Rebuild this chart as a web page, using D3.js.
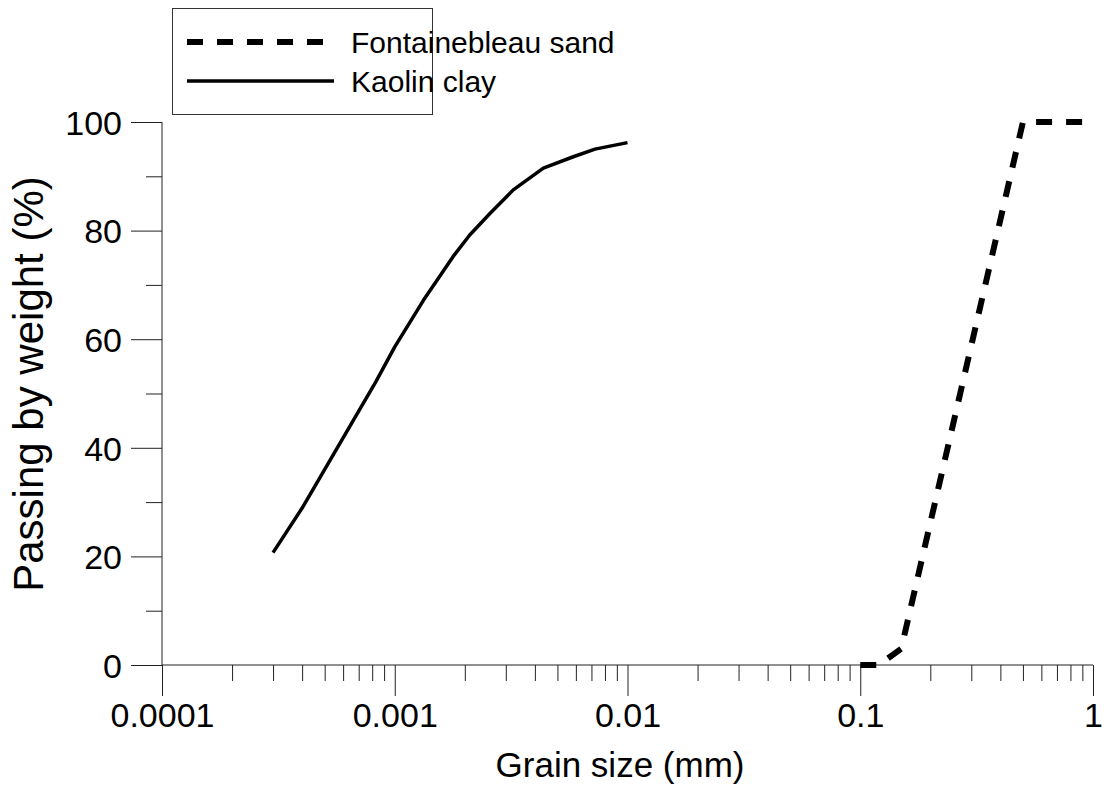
<!DOCTYPE html>
<html>
<head>
<meta charset="utf-8">
<script src="https://cdn.jsdelivr.net/npm/d3@7"></script>
<style>
  html, body { margin: 0; padding: 0; background: #fff; }
  svg { display: block; font-family: "Liberation Sans", Arial, sans-serif; }
</style>
</head>
<body>
<svg id="chart" width="1106" height="789"></svg>
<script>
// Grain size distribution curves (grain size in mm, percent passing by weight)
const sandSize    = [0.1, 0.12, 0.15, 0.5, 1];
const sandPassing = [0, 0, 3, 100, 100];

const kaolinSize    = [0.0003, 0.0004, 0.00083, 0.001, 0.00133, 0.00178, 0.0021, 0.00257, 0.00323, 0.00435, 0.00585, 0.00725, 0.01];
const kaolinPassing = [20.7, 28.9, 52.2, 58.6, 67.2, 75.2, 79.2, 83.2, 87.5, 91.5, 93.6, 95.0, 96.2];

const xTickValues = [0.0001, 0.001, 0.01, 0.1, 1];
const xTickLabels = ["0.0001", "0.001", "0.01", "0.1", "1"];
const yTickValues = [0, 20, 40, 60, 80, 100];

const seriesNames = ["Fontainebleau sand", "Kaolin clay"];

const svg = d3.select("#chart");
const plotLeft = 162, plotRight = 1093, plotTop = 122, plotBottom = 665;

const x = d3.scaleLog().domain([0.0001, 1]).range([plotLeft, plotRight]);
const y = d3.scaleLinear().domain([0, 100]).range([plotBottom, plotTop]);

// minor ticks: 2..9 within each decade
const xMinor = [];
for (let e = -4; e < 0; e++) {
  for (let m = 2; m <= 9; m++) xMinor.push(m * Math.pow(10, e));
}
const yMinor = [10, 30, 50, 70, 90];

const axisColor = "#222";
const tickFont = 34;

// x axis
const gx = svg.append("g").attr("transform", `translate(0,${plotBottom})`);
gx.call(d3.axisBottom(x).tickValues(xMinor).tickSize(16).tickFormat(""));
gx.append("g").call(d3.axisBottom(x).tickValues(xTickValues).tickSize(31)
  .tickFormat((d, i) => xTickLabels[i]));
gx.selectAll(".domain").remove();
gx.append("line").attr("x1", plotLeft).attr("x2", plotRight).attr("y1", 0).attr("y2", 0)
  .attr("stroke", axisColor).attr("stroke-width", 1);
gx.selectAll(".tick line").attr("stroke", axisColor).attr("stroke-width", 1);
gx.selectAll(".tick text")
  .attr("y", 62).attr("dy", null)
  .attr("font-size", tickFont).attr("fill", "#000")
  .attr("font-family", "Liberation Sans, Arial, sans-serif");

// y axis
const gy = svg.append("g").attr("transform", `translate(${plotLeft},0)`);
gy.call(d3.axisLeft(y).tickValues(yMinor).tickSize(16).tickFormat(""));
gy.append("g").call(d3.axisLeft(y).tickValues(yTickValues).tickSize(31));
gy.selectAll(".domain").remove();
gy.append("line").attr("x1", 0).attr("x2", 0).attr("y1", plotTop).attr("y2", plotBottom)
  .attr("stroke", axisColor).attr("stroke-width", 1);
gy.selectAll(".tick line").attr("stroke", axisColor).attr("stroke-width", 1);
gy.selectAll(".tick text")
  .attr("x", -40).attr("dy", "0.36em")
  .attr("font-size", tickFont).attr("fill", "#000")
  .attr("font-family", "Liberation Sans, Arial, sans-serif");

// axis titles
svg.append("text").attr("x", 620).attr("y", 777)
  .attr("text-anchor", "middle").attr("font-size", 35).text("Grain size (mm)");
svg.append("text")
  .attr("transform", `translate(43,384) rotate(-90)`)
  .attr("text-anchor", "middle").attr("font-size", 42).text("Passing by weight (%)");

// curves
const line = d3.line().x(d => x(d[0])).y(d => y(d[1]));
const sand = sandSize.map((s, i) => [s, sandPassing[i]]);
const kaolin = kaolinSize.map((s, i) => [s, kaolinPassing[i]]);

svg.append("path").datum(kaolin).attr("d", line)
  .attr("fill", "none").attr("stroke", "#000").attr("stroke-width", 3.5)
  .attr("stroke-linejoin", "round");
svg.append("path").datum(sand).attr("d", line)
  .attr("fill", "none").attr("stroke", "#000").attr("stroke-width", 6)
  .attr("stroke-dasharray", "16,14").attr("stroke-linejoin", "round");

// legend
const lg = svg.append("g");
lg.append("rect").attr("x", 172.5).attr("y", 8.5).attr("width", 260).attr("height", 106)
  .attr("fill", "#fff").attr("stroke", "#333").attr("stroke-width", 1);
lg.append("line").attr("x1", 187).attr("x2", 323).attr("y1", 42).attr("y2", 42)
  .attr("stroke", "#000").attr("stroke-width", 6).attr("stroke-dasharray", "16,14");
lg.append("line").attr("x1", 187).attr("x2", 334).attr("y1", 81).attr("y2", 81)
  .attr("stroke", "#000").attr("stroke-width", 3.5);
lg.append("text").attr("x", 351).attr("y", 53).attr("font-size", 30).text(seriesNames[0]);
lg.append("text").attr("x", 351).attr("y", 92).attr("font-size", 30).text(seriesNames[1]);
</script>
</body>
</html>
